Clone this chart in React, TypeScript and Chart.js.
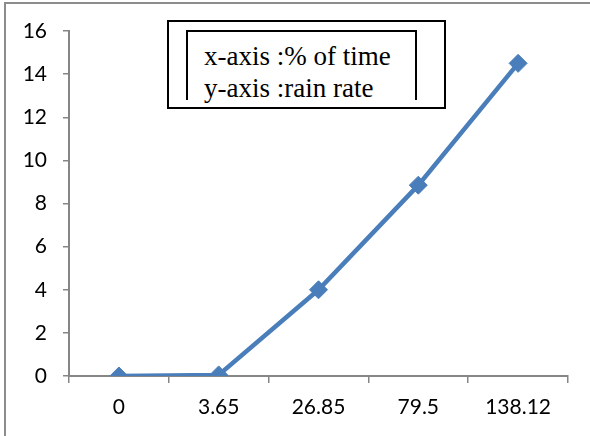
import React, { useEffect, useRef } from "react";
import { Chart, registerables } from "chart.js";

Chart.register(...registerables);

const categories = ["0", "3.65", "26.85", "79.5", "138.12"];
const rainRate = [0, 0.05, 4.0, 8.85, 14.5];
const yTicks = [0, 2, 4, 6, 8, 10, 12, 14, 16];
const noteLines = ["x-axis :% of time", "y-axis :rain rate"];

const BLUE = "#4A7EBB";
const AXIS = "#868686";

export default function App() {
  const ref = useRef<HTMLCanvasElement | null>(null);

  useEffect(() => {
    document.body.style.margin = "0";
    const ctx = ref.current!.getContext("2d")!;
    const chart = new Chart(ctx, {
      type: "line",
      data: {
        labels: categories,
        datasets: [
          {
            data: rainRate,
            borderColor: BLUE,
            backgroundColor: BLUE,
            borderWidth: 4.5,
            pointStyle: "rectRot",
            pointRadius: 9,
            pointBorderWidth: 1,
            pointBorderColor: BLUE,
            pointBackgroundColor: BLUE,
            tension: 0,
          },
        ],
      },
      options: {
        animation: false,
        responsive: false,
        maintainAspectRatio: false,
        layout: { padding: { left: 0, right: 22, top: 31, bottom: 0 } },
        plugins: { legend: { display: false }, tooltip: { enabled: false } },
        scales: {
          x: {
            type: "category",
            offset: true,
            grid: {
              offset: true,
              drawOnChartArea: false,
              drawTicks: true,
              tickLength: 7,
              color: AXIS,
              lineWidth: 1.5,
            },
            border: { display: true, color: AXIS, width: 2 },
            ticks: {
              color: "#000",
              font: { family: "Lato, 'Open Sans', sans-serif", size: 21 },
              padding: 12,
              maxRotation: 0,
            },
            afterFit: (s: any) => {
              s.height = 60;
            },
          },
          y: {
            min: 0,
            max: 16,
            afterBuildTicks: (s: any) => {
              s.ticks = yTicks.map((v) => ({ value: v }));
            },
            grid: {
              drawOnChartArea: false,
              drawTicks: true,
              tickLength: 6,
              color: AXIS,
              lineWidth: 1.5,
            },
            border: { display: true, color: AXIS, width: 2 },
            ticks: {
              color: "#000",
              font: { family: "Lato, 'Open Sans', sans-serif", size: 21 },
              padding: 16,
            },
            afterFit: (s: any) => {
              s.width = 69;
            },
          },
        },
      },
    });
    return () => chart.destroy();
  }, []);

  return (
    <div style={{ position: "relative", width: 590, height: 436, background: "#fff", overflow: "hidden" }}>
      <div
        style={{
          position: "absolute",
          left: 4,
          top: 2,
          width: 600,
          height: 500,
          borderLeft: "2px solid #8c8c8c",
          borderTop: "2px solid #8c8c8c",
        }}
      />
      <canvas ref={ref} width={590} height={436} style={{ position: "absolute", left: 0, top: 0 }} />
      <div
        style={{
          position: "absolute",
          left: 167,
          top: 20,
          width: 279,
          height: 89,
          border: "2px solid #000",
          boxSizing: "border-box",
          background: "#fff",
        }}
      />
      <div
        style={{
          position: "absolute",
          left: 186,
          top: 30,
          width: 231,
          height: 70,
          borderLeft: "2px solid #000",
          borderTop: "2px solid #000",
          borderRight: "2px solid #000",
          boxSizing: "border-box",
        }}
      />
      <div
        style={{
          position: "absolute",
          left: 204,
          top: 40,
          fontFamily: "'Times New Roman', 'Liberation Serif', Times, serif",
          fontSize: 27,
          lineHeight: "32px",
          color: "#000",
          whiteSpace: "nowrap",
        }}
      >
        {noteLines.map((t) => (
          <div key={t}>{t}</div>
        ))}
      </div>
    </div>
  );
}
